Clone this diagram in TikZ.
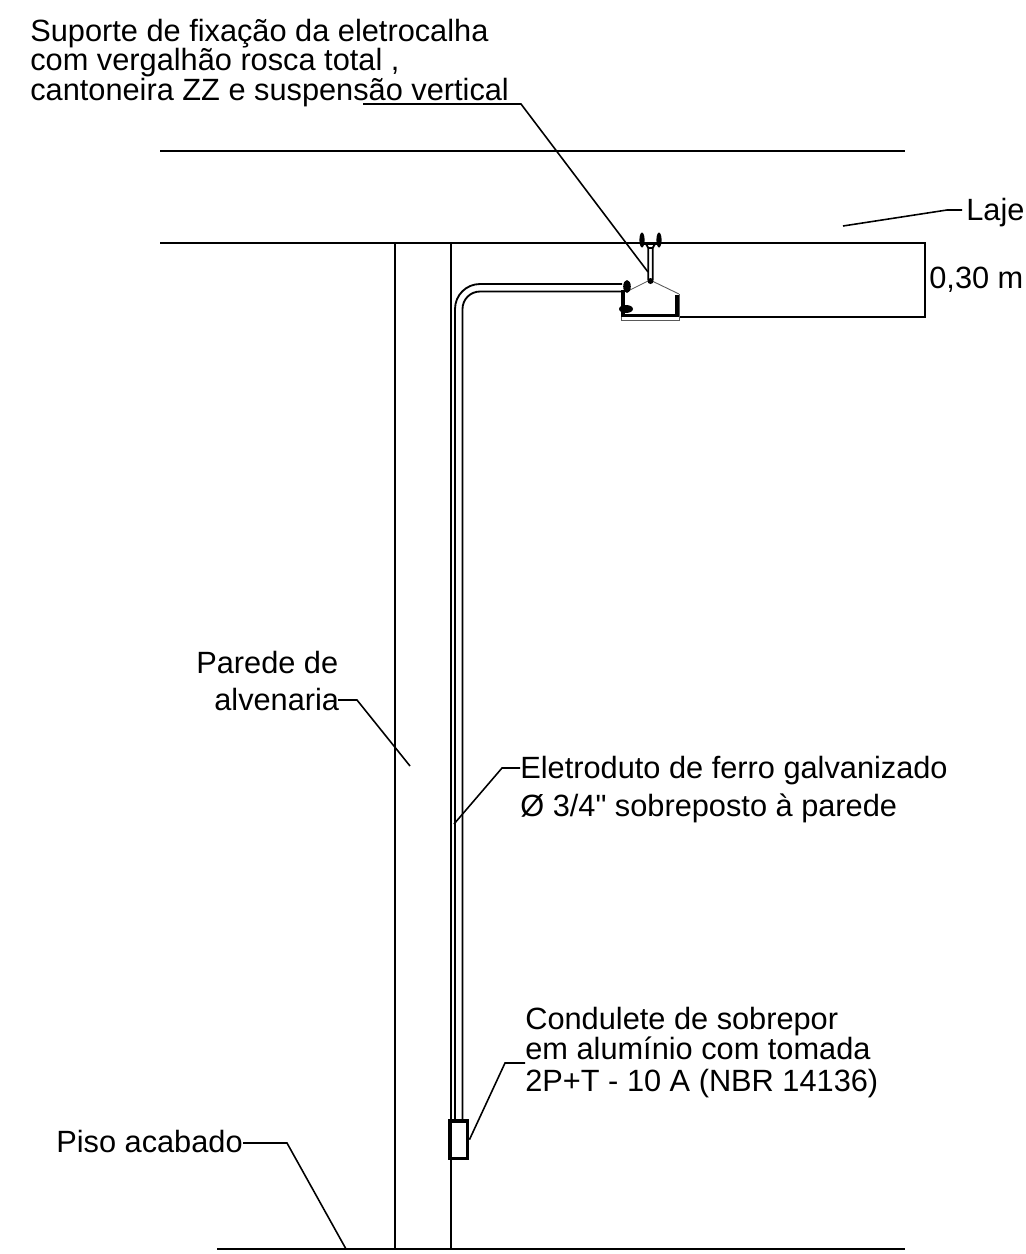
\documentclass[tikz,border=0pt]{standalone}
\usepackage{fontspec}
\setmainfont[Ligatures=TeXOff]{Liberation Sans}
\tikzset{
  lbl/.style={inner sep=0pt,anchor=base west,font=\fontsize{17.5pt}{17.5pt}\selectfont},
  thin line/.style={line width=0.9pt},
  tube line/.style={line width=1.05pt},
  thick line/.style={line width=1.5pt}
}
\begin{document}
\begin{tikzpicture}[x=0.02cm,y=-0.02cm]
\useasboundingbox (0,0) rectangle (1025,1254);
% labels
\node[lbl] (sup1) at (30,41) {Suporte de fixação da eletrocalha};
\node[lbl] (sup2) at (30,70) {com vergalhão rosca total ,};
\node[lbl] (sup3) at (30,100) {cantoneira ZZ e suspensão vertical};
\node[lbl] (laje) at (966,220) {Laje};
\node[lbl] (alt) at (929,288) {0,30 m};
\node[lbl] (par1) at (196,673) {Parede de};
\node[lbl] (par2) at (214,710) {alvenaria};
\node[lbl] (ele1) at (520,778) {Eletroduto de ferro galvanizado};
\node[lbl] (ele2) at (520,816) {Ø 3/4" sobreposto à parede};
\node[lbl] (con1) at (525,1029) {Condulete de sobrepor};
\node[lbl] (con2) at (525,1059) {em alumínio com tomada};
\node[lbl] (con3) at (525,1091) {2P+T - 10 A (NBR 14136)};
\node[lbl] (piso) at (56,1152) {Piso acabado};
% laje, parede e piso
\draw[thin line] (160,151) -- (905,151);
\draw[thin line] (160,243) -- (925,243) -- (925,317) -- (680,317);
\draw[thick line] (858,243) -- (905,243);
\draw[thick line] (858,317) -- (872,317);
\draw[thin line] (395,243) -- (395,1249);
\draw[thin line] (450.8,243) -- (450.8,1249);
\draw[thin line] (217,1249) -- (905,1249);
% eletroduto
\draw[tube line] (455,1119) -- (455,309) arc (180:270:25) -- (622,284);
\draw[tube line] (462.5,1119) -- (462.5,309) arc (180:270:17.5) -- (622,291.5);
% condulete
\node[draw,fill=white,line width=2pt,minimum width=10.2pt,minimum height=21.5pt,inner sep=0pt,
  anchor=north west] (cond) at (448,1119) {};
% suporte
\draw[line width=0.5pt,black!65] (630,290) -- (650,280) -- (679,294);
\draw[line width=0.5pt,black!65] (621.5,292) -- (621.5,320) -- (679,320) -- (679,294);
\draw[line width=2.2pt] (623,290) -- (623,315.5) -- (677,315.5) -- (677,295);
\draw[tube line] (648.3,280) -- (648.3,248) -- (645.5,243);
\draw[tube line] (652.7,280) -- (652.7,248) -- (655.5,243);
\draw[tube line] (648.3,248) -- (652.7,248);
\draw[thick line] (640,243.5) -- (661,243.5);
\fill (650.5,281) circle (3);
\fill (627,286.5) ellipse (3.8 and 6.5);
\fill (626,309) ellipse (7 and 4);
\fill (642,240) ellipse (2.6 and 7.5);
\fill (659,240) ellipse (2.6 and 7.5);
% chamadas
\coordinate (a1) at (363,104);
\coordinate (a2) at (521,104);
\coordinate (a3) at (648,272);
\draw[thin line] (a1) -- (a2) -- (a3);
\coordinate (la1) at (962,210);
\coordinate (la2) at (947,210);
\coordinate (la3) at (843,226);
\draw[thin line] (la1) -- (la2) -- (la3);
\coordinate (b1) at (338,700);
\coordinate (b2) at (357,700);
\coordinate (b3) at (410,766);
\draw[thin line] (b1) -- (b2) -- (b3);
\coordinate (c1) at (520,768);
\coordinate (c2) at (502,768);
\coordinate (c3) at (454,824);
\draw[thin line] (c1) -- (c2) -- (c3);
\coordinate (e1) at (525,1063);
\coordinate (e2) at (505,1063);
\draw[thin line] (e1) -- (e2) -- (cond.east);
\coordinate (d1) at (243,1143);
\coordinate (d2) at (287,1143);
\coordinate (d3) at (346,1249);
\draw[thin line] (d1) -- (d2) -- (d3);
\end{tikzpicture}
\end{document}
